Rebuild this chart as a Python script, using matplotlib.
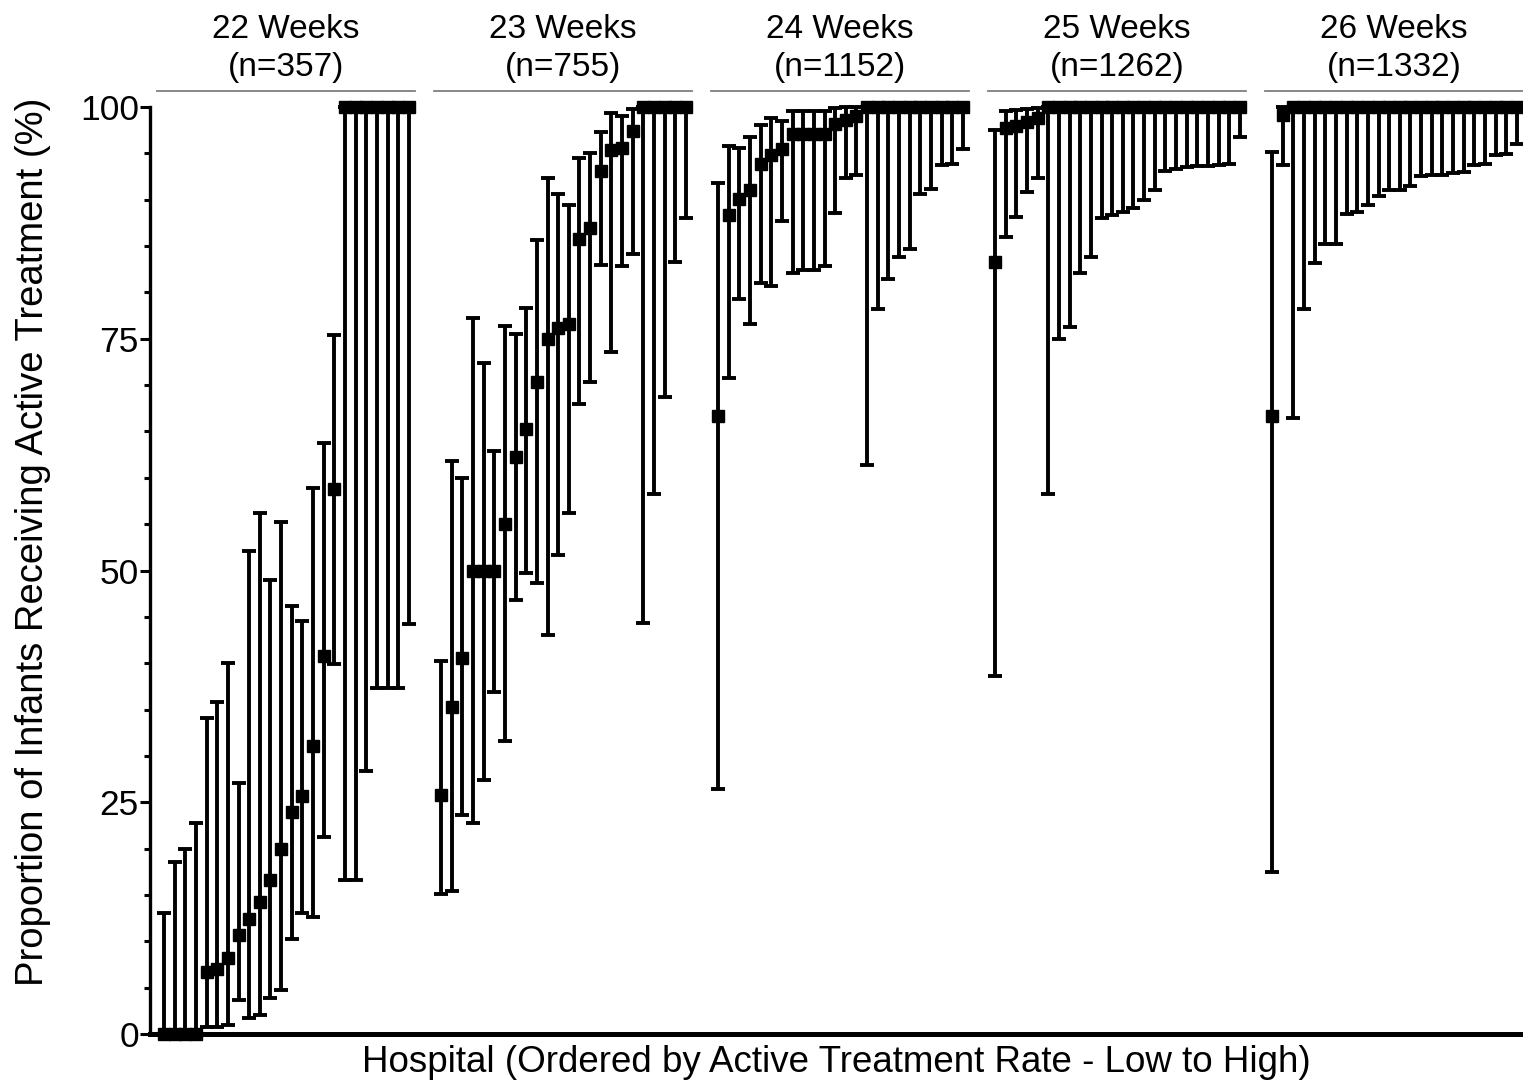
import numpy as np
import matplotlib
matplotlib.use("Agg")
import matplotlib.pyplot as plt
from matplotlib.ticker import MultipleLocator

plt.rcParams['font.family'] = ['Liberation Sans', 'DejaVu Sans']

# gestational age groups
group_titles = ['22 Weeks\n(n=357)', '23 Weeks\n(n=755)', '24 Weeks\n(n=1152)',
                '25 Weeks\n(n=1262)', '26 Weeks\n(n=1332)']

# proportion (%) per hospital, with lower / upper confidence limits
rate_22 = [0, 0, 0, 0, 6.7, 7.0, 8.2, 10.7, 12.4, 14.2, 16.6, 20.0,
           23.9, 25.7, 31.1, 40.8, 58.8, 100, 100, 100, 100, 100, 100, 100]
low_22 = [0, 0, 0, 0, 0.8, 0.8, 1.0, 3.7, 1.7, 2.0, 3.9, 4.7,
          10.2, 13.0, 12.6, 21.3, 39.9, 16.6, 16.6, 28.4, 37.3, 37.3, 37.3, 44.2]
high_22 = [13.0, 18.6, 20.0, 22.8, 34.1, 35.8, 40.0, 27.1, 52.1, 56.2, 49.0, 55.2,
           46.2, 44.6, 58.9, 63.8, 75.4, 100, 100, 100, 100, 100, 100, 100]

rate_23 = [25.8, 35.3, 40.6, 50, 50, 50, 55.0, 62.2, 65.3, 70.3, 75.0, 76.2,
           76.6, 85.8, 86.9, 93.1, 95.4, 95.6, 97.4, 100, 100, 100, 100, 100]
low_23 = [15.1, 15.4, 23.6, 22.8, 27.4, 36.9, 31.6, 46.8, 49.7, 48.7, 43.0, 51.7,
          56.2, 68.0, 70.3, 83.0, 73.6, 82.8, 84.1, 44.3, 58.2, 68.7, 83.3, 88.0]
high_23 = [40.2, 61.8, 60.0, 77.2, 72.4, 62.9, 76.4, 75.5, 78.3, 85.6, 92.3, 90.6,
           89.4, 94.5, 95.0, 97.3, 99.3, 99.0, 99.8, 100, 100, 100, 100, 100]

rate_24 = [66.7, 88.3, 90.1, 91.0, 93.8, 94.8, 95.5, 97.1, 97.1, 97.1, 97.1, 98.2,
           98.6, 99.0, 100, 100, 100, 100, 100, 100, 100, 100, 100, 100]
low_24 = [26.4, 70.8, 79.3, 76.6, 81.0, 80.7, 87.7, 82.1, 82.4, 82.4, 82.9, 88.6,
          92.3, 92.7, 61.4, 78.2, 81.4, 83.8, 84.7, 90.6, 91.2, 93.7, 93.8, 95.5]
high_24 = [91.8, 95.8, 95.6, 96.8, 98.1, 98.8, 98.5, 99.6, 99.6, 99.6, 99.6, 99.9,
           100, 100, 100, 100, 100, 100, 100, 100, 100, 100, 100, 100]

rate_25 = [83.3, 97.7, 98.0, 98.4, 98.8, 100, 100, 100, 100, 100, 100, 100,
           100, 100, 100, 100, 100, 100, 100, 100, 100, 100, 100, 100]
low_25 = [38.6, 86.0, 88.1, 90.8, 92.3, 58.2, 75.0, 76.3, 82.1, 83.8, 88.0, 88.3,
          88.7, 89.1, 90.0, 91.1, 93.1, 93.3, 93.5, 93.6, 93.6, 93.7, 93.9, 96.8]
high_25 = [97.5, 99.6, 99.7, 99.8, 99.9, 100, 100, 100, 100, 100, 100, 100,
           100, 100, 100, 100, 100, 100, 100, 100, 100, 100, 100, 100]

rate_26 = [66.7, 99.1, 100, 100, 100, 100, 100, 100, 100, 100, 100, 100,
           100, 100, 100, 100, 100, 100, 100, 100, 100, 100, 100, 100]
low_26 = [17.5, 93.7, 66.5, 78.2, 83.2, 85.2, 85.2, 88.5, 88.7, 89.4, 90.4, 91.0,
          91.0, 91.5, 92.6, 92.7, 92.7, 92.9, 93.0, 93.7, 93.9, 94.8, 94.9, 96.0]
high_26 = [95.1, 100, 100, 100, 100, 100, 100, 100, 100, 100, 100, 100,
           100, 100, 100, 100, 100, 100, 100, 100, 100, 100, 100, 100]

rates = [rate_22, rate_23, rate_24, rate_25, rate_26]
lows = [low_22, low_23, low_24, low_25, low_26]
highs = [high_22, high_23, high_24, high_25, high_26]

slots_per_group = 26  # 24 hospitals + 2 empty slots between groups

fig = plt.figure(figsize=(15.23, 10.83), dpi=100)
ax = fig.add_axes([150 / 1523, 49 / 1083, 1373 / 1523, 927 / 1083])

for g in range(len(rates)):
    pt = np.array(rates[g])
    lo = np.array(lows[g])
    hi = np.array(highs[g])
    x = g * slots_per_group + np.arange(len(pt))
    eb = ax.errorbar(x, pt, yerr=[pt - lo, hi - pt], fmt='s', color='black',
                     ms=8.5, elinewidth=2.8, capsize=5, capthick=2.8)
    for artist in eb.get_children():
        artist.set_clip_on(False)

    # header line and group title
    x0 = g * slots_per_group - 0.65
    x1 = g * slots_per_group + 23.55
    ax.plot([x0, x1], [101.7, 101.7], color='#7f7f7f', lw=1.3, clip_on=False)
    ax.text((x0 + x1) / 2, 106.35, group_titles[g], ha='center', va='center',
            fontsize=24, linespacing=1.3)

ax.set_xlim(-1.31, 127.56)
ax.set_ylim(0, 100)

ax.spines['top'].set_visible(False)
ax.spines['right'].set_visible(False)
ax.spines['left'].set_linewidth(2.4)
ax.spines['bottom'].set_linewidth(3.6)

ax.set_xticks([])
ax.yaxis.set_major_locator(MultipleLocator(25))
ax.yaxis.set_minor_locator(MultipleLocator(5))
ax.tick_params(axis='y', which='major', direction='out', length=7, width=2.2,
               labelsize=25.5, pad=1)
ax.tick_params(axis='y', which='minor', direction='out', length=4.5, width=2.2)

ax.set_ylabel('Proportion of Infants Receiving Active Treatment (%)', fontsize=27.5)
ax.yaxis.set_label_coords(-0.072, 0.531)
ax.set_xlabel('Hospital (Ordered by Active Treatment Rate - Low to High)', fontsize=26.5,
              labelpad=8)

fig.savefig('out.png', dpi=100)
